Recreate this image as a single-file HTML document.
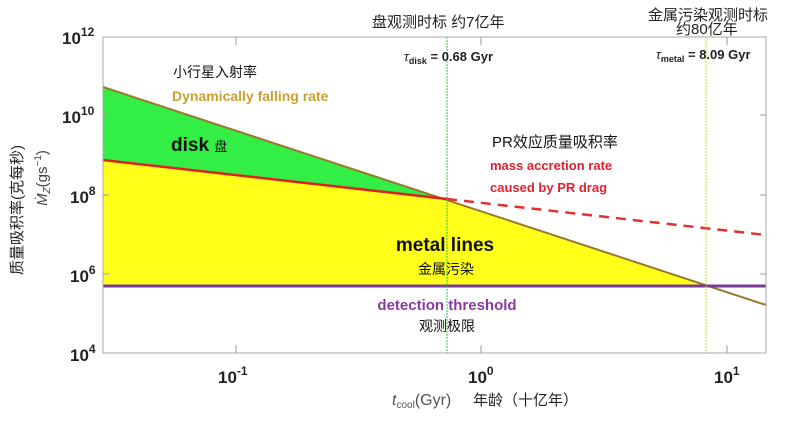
<!DOCTYPE html>
<html><head><meta charset="utf-8"><style>
body{margin:0;background:#fff;width:800px;height:432px;overflow:hidden}
svg text{font-family:"Liberation Sans","Noto Sans CJK SC",sans-serif}
</style></head><body>
<svg width="800" height="432" viewBox="0 0 800 432" xmlns="http://www.w3.org/2000/svg">
<polygon points="103,87 447,199 103,160" fill="#33ee44"/>
<polygon points="103,160 447,199 706,286 103,286" fill="#ffff1a"/>
<line x1="103" y1="87" x2="766" y2="305" stroke="#9a7a2a" stroke-width="2"/>
<line x1="103" y1="160" x2="447" y2="199" stroke="#e02020" stroke-width="2.5"/>
<line x1="447" y1="199" x2="766" y2="235" stroke="#e03030" stroke-width="2.5" stroke-dasharray="10,7"/>
<line x1="103" y1="286" x2="766" y2="286" stroke="#7a3a9a" stroke-width="3"/>
<line x1="447" y1="37" x2="447" y2="353" stroke="#22cc44" stroke-width="1" stroke-dasharray="2,1"/>
<line x1="706" y1="37" x2="706" y2="353" stroke="#dddd22" stroke-width="1" stroke-dasharray="2,1"/>
<rect x="103" y="37" width="663" height="316" fill="none" stroke="#aaa" stroke-width="1"/>
<g stroke="#999" stroke-width="1">
<line x1="236" y1="353" x2="236" y2="345"/><line x1="481" y1="353" x2="481" y2="345"/><line x1="727" y1="353" x2="727" y2="345"/>
<line x1="236" y1="37" x2="236" y2="45"/><line x1="481" y1="37" x2="481" y2="45"/><line x1="727" y1="37" x2="727" y2="45"/>
<line x1="103" y1="115" x2="109" y2="115"/><line x1="103" y1="195" x2="109" y2="195"/><line x1="103" y1="274" x2="109" y2="274"/>
<line x1="766" y1="115" x2="760" y2="115"/><line x1="766" y1="195" x2="760" y2="195"/><line x1="766" y1="274" x2="760" y2="274"/>
</g>
<g font-weight="bold" font-size="17" fill="#222">
<text x="62" y="44">10<tspan font-size="12" dy="-8">12</tspan></text>
<text x="62" y="123">10<tspan font-size="12" dy="-8">10</tspan></text>
<text x="70" y="203">10<tspan font-size="12" dy="-8">8</tspan></text>
<text x="70" y="282">10<tspan font-size="12" dy="-8">6</tspan></text>
<text x="70" y="361">10<tspan font-size="12" dy="-8">4</tspan></text>
<text x="218" y="383">10<tspan font-size="12" dy="-8">-1</tspan></text>
<text x="468" y="383">10<tspan font-size="12" dy="-8">0</tspan></text>
<text x="714" y="383">10<tspan font-size="12" dy="-8">1</tspan></text>
</g>
<text x="392" y="405" font-size="16" fill="#555" font-family="Liberation Serif,serif"><tspan font-style="italic">t</tspan><tspan font-size="10" dy="3">cool</tspan><tspan dy="-3">(Gyr)</tspan></text>
<text x="473" y="405" font-size="15" fill="#222">年龄（十亿年）</text>
<g transform="translate(22,210) rotate(-90)"><text text-anchor="middle" font-size="15" fill="#222">质量吸积率(克每秒)</text></g>
<g transform="translate(47,178) rotate(-90)"><text text-anchor="middle" font-size="15" fill="#444" font-family="Liberation Serif,serif"><tspan font-style="italic">Ṁ</tspan><tspan font-size="10" font-style="italic" dy="3">Z</tspan><tspan dy="-3">(gs</tspan><tspan font-size="10" dy="-6">−1</tspan><tspan dy="6">)</tspan></text></g>
<text x="372" y="27" font-size="15" fill="#222">盘观测时标 约7亿年</text>
<text x="648" y="20" font-size="15" fill="#222">金属污染观测时标</text>
<text x="676" y="34" font-size="15" fill="#222">约80亿年</text>
<text x="404" y="61" font-size="13" font-weight="bold" fill="#222"><tspan font-style="italic" font-weight="normal">τ</tspan><tspan font-size="9" dy="3">disk</tspan><tspan dy="-3"> = 0.68 Gyr</tspan></text>
<text x="656" y="59" font-size="13" font-weight="bold" fill="#222"><tspan font-style="italic" font-weight="normal">τ</tspan><tspan font-size="9" dy="3">metal</tspan><tspan dy="-3"> = 8.09 Gyr</tspan></text>
<text x="173" y="77" font-size="14" fill="#111">小行星入射率</text>
<text x="172" y="101" font-size="14" font-weight="bold" fill="#c8a030">Dynamically falling rate</text>
<text x="171" y="151" font-size="19" font-weight="bold" fill="#111">disk <tspan font-size="13" font-weight="normal">盘</tspan></text>
<text x="492" y="147" font-size="15" fill="#111">PR效应质量吸积率</text>
<text x="490" y="170" font-size="13" font-weight="bold" fill="#e02030">mass accretion rate</text>
<text x="490" y="192" font-size="13" font-weight="bold" fill="#e02030">caused by PR drag</text>
<text x="445" y="251" font-size="19" font-weight="bold" fill="#111" text-anchor="middle">metal lines</text>
<text x="446" y="274" font-size="14" fill="#111" text-anchor="middle">金属污染</text>
<text x="447" y="310" font-size="15" font-weight="bold" fill="#8a3aa0" text-anchor="middle">detection threshold</text>
<text x="447" y="331" font-size="14" fill="#111" text-anchor="middle">观测极限</text>
</svg>
</body></html>
